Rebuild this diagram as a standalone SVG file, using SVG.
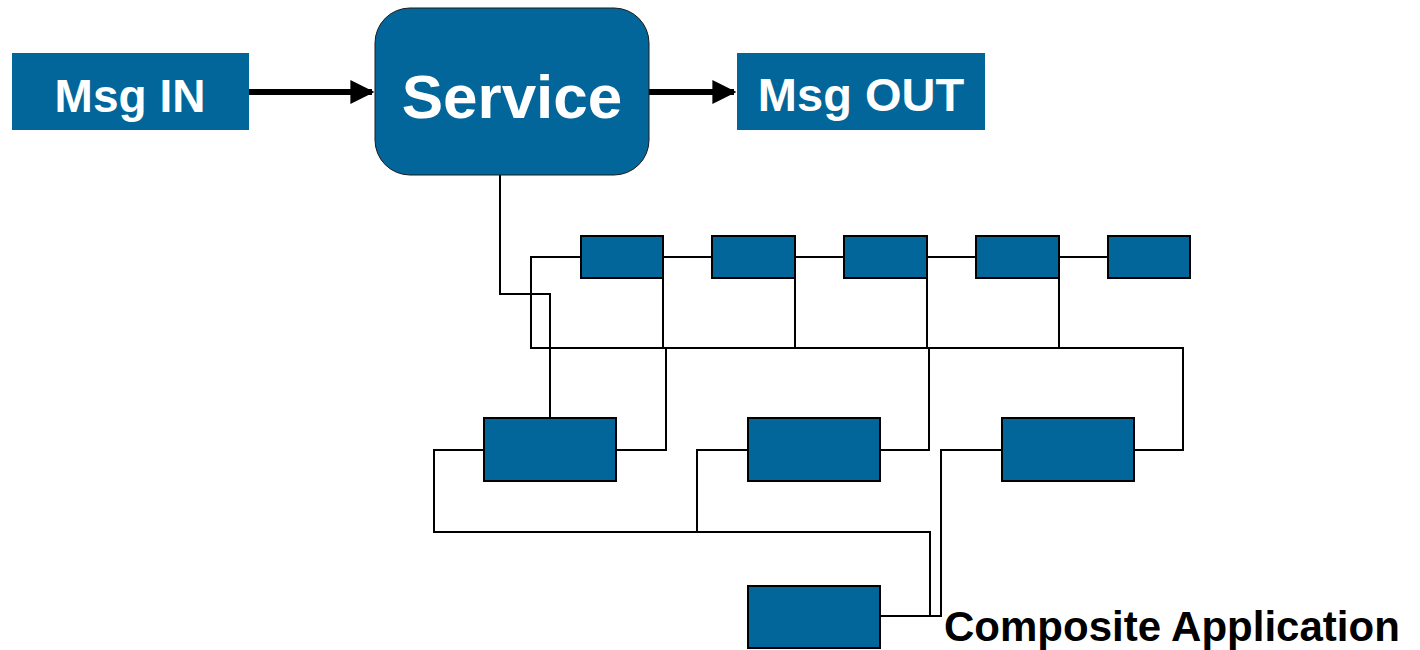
<svg xmlns="http://www.w3.org/2000/svg" width="1420" height="650" viewBox="0 0 1420 650">
<style>
.box{fill:#03669A;stroke:#000;stroke-width:2}
.lbl{fill:#fff;font-family:"Liberation Sans",Arial,sans-serif;font-weight:bold;text-anchor:middle}
.wire{fill:none;stroke:#000;stroke-width:2}
.arrow{stroke:#000;stroke-width:6;fill:none}
</style>
<defs>
<marker id="ah" markerWidth="4" markerHeight="4" refX="3.6" refY="2" orient="auto" markerUnits="strokeWidth"><path d="M0,0 L4,2 L0,4 Z" fill="#000"/></marker>
</defs>
<g id="connectors">
<line class="arrow" x1="249" y1="92" x2="372" y2="92" marker-end="url(#ah)"/>
<line class="arrow" x1="649" y1="92" x2="734" y2="92" marker-end="url(#ah)"/>
<polyline class="wire" points="500,175 500,294 550,294 550,418"/>
<polyline class="wire" points="581,257 531,257 531,348 1183,348 1183,450 1134,450"/>
<line class="wire" x1="663" y1="257" x2="712" y2="257"/>
<line class="wire" x1="795" y1="257" x2="844" y2="257"/>
<line class="wire" x1="927" y1="257" x2="976" y2="257"/>
<line class="wire" x1="1059" y1="257" x2="1108" y2="257"/>
<line class="wire" x1="663" y1="278" x2="663" y2="348"/>
<line class="wire" x1="795" y1="278" x2="795" y2="348"/>
<line class="wire" x1="927" y1="278" x2="927" y2="348"/>
<line class="wire" x1="1059" y1="278" x2="1059" y2="348"/>
<polyline class="wire" points="666,348 666,450 616,450"/>
<polyline class="wire" points="929,348 929,450 880,450"/>
<polyline class="wire" points="484,450 434,450 434,532 930,532 930,616"/>
<polyline class="wire" points="748,450 697,450 697,532"/>
<polyline class="wire" points="1002,450 941,450 941,616 880,616"/>
</g>
<g id="msg-in"><rect x="12" y="53" width="237" height="77" fill="#03669A"/><text class="lbl" x="130" y="112" font-size="46">Msg IN</text></g>
<g id="service"><rect x="375" y="8" width="274" height="167" rx="35" ry="35" fill="#03669A" stroke="#1a1a1a" stroke-width="1"/><text class="lbl" x="512" y="118" font-size="62">Service</text></g>
<g id="msg-out"><rect x="737" y="53" width="248" height="77" fill="#03669A"/><text class="lbl" x="861" y="111" font-size="47">Msg OUT</text></g>
<g id="s1"><rect class="box" x="581" y="236" width="82" height="42"/></g>
<g id="s2"><rect class="box" x="712" y="236" width="83" height="42"/></g>
<g id="s3"><rect class="box" x="844" y="236" width="83" height="42"/></g>
<g id="s4"><rect class="box" x="976" y="236" width="83" height="42"/></g>
<g id="s5"><rect class="box" x="1108" y="236" width="82" height="42"/></g>
<g id="b1"><rect class="box" x="484" y="418" width="132" height="63"/></g>
<g id="b2"><rect class="box" x="748" y="418" width="132" height="63"/></g>
<g id="b3"><rect class="box" x="1002" y="418" width="132" height="63"/></g>
<g id="b4"><rect class="box" x="748" y="586" width="132" height="62"/></g>
<g id="caption"><text x="944" y="641" font-size="42" font-family="Liberation Sans,Arial,sans-serif" font-weight="bold" fill="#000">Composite Application</text></g>
</svg>
